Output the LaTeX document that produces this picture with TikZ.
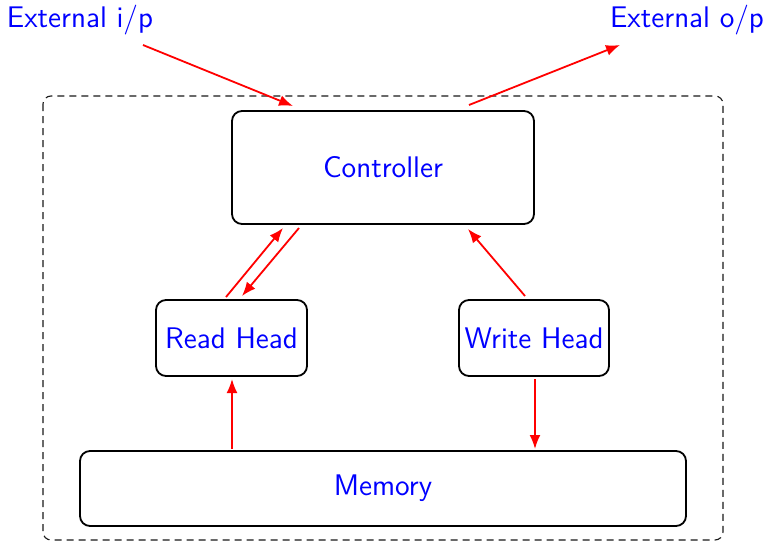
\documentclass[tikz,border=0pt]{standalone}
\usetikzlibrary{arrows.meta}
\begin{document}
\begin{tikzpicture}[x=0.5pt,y=-0.5pt,
  txt/.style={font=\sffamily\fontsize{14.9}{18}\selectfont,text=blue},
  block/.style={txt,draw=black,line width=0.9pt,rounded corners=5pt,inner sep=0pt},
  label/.style={txt,inner sep=0pt},
  flow/.style={draw=red,line width=0.9pt,-{Latex[length=7pt,width=5.5pt]}},
  frame/.style={draw=black!90,dash pattern=on 3.5pt off 2.5pt,line width=0.55pt,rounded corners=4pt}]
\useasboundingbox (0,0) rectangle (766,542);

% enclosing system boundary
\draw[frame] (43,96) rectangle (723,540);

% components
\node[block,minimum width=151pt,minimum height=56.5pt] (ctrl) at (383,167.5) {Controller};
\node[block,minimum width=75.5pt,minimum height=38pt] (read) at (231.5,338) {Read Head};
\node[block,minimum width=75pt,minimum height=38pt] (write) at (534,338) {Write Head};
\node[block,minimum width=303pt,minimum height=37.5pt] (mem) at (383,488.5) {Memory};

% external interface labels
\node[label] (ein) at (80,20) {External i/p};
\node[label] (eout) at (687,20) {External o/p};

% connector end points
\coordinate (inA) at (143,45);
\coordinate (inB) at (293,106);
\coordinate (outA) at (469,105);
\coordinate (outB) at (620,45);
\coordinate (rcA) at (226,297);
\coordinate (rcB) at (283,228);
\coordinate (crA) at (299,228);
\coordinate (crB) at (242,296);
\coordinate (wcA) at (525,296);
\coordinate (wcB) at (468,229);
\coordinate (mrA) at (232,449);
\coordinate (mrB) at (232,379);
\coordinate (wmA) at (535,379);
\coordinate (wmB) at (535,449);

% data flow
\draw[flow] (inA) -- (inB);
\draw[flow] (outA) -- (outB);
\draw[flow] (rcA) -- (rcB);
\draw[flow] (crA) -- (crB);
\draw[flow] (wcA) -- (wcB);
\draw[flow] (mrA) -- (mrB);
\draw[flow] (wmA) -- (wmB);
\end{tikzpicture}
\end{document}
